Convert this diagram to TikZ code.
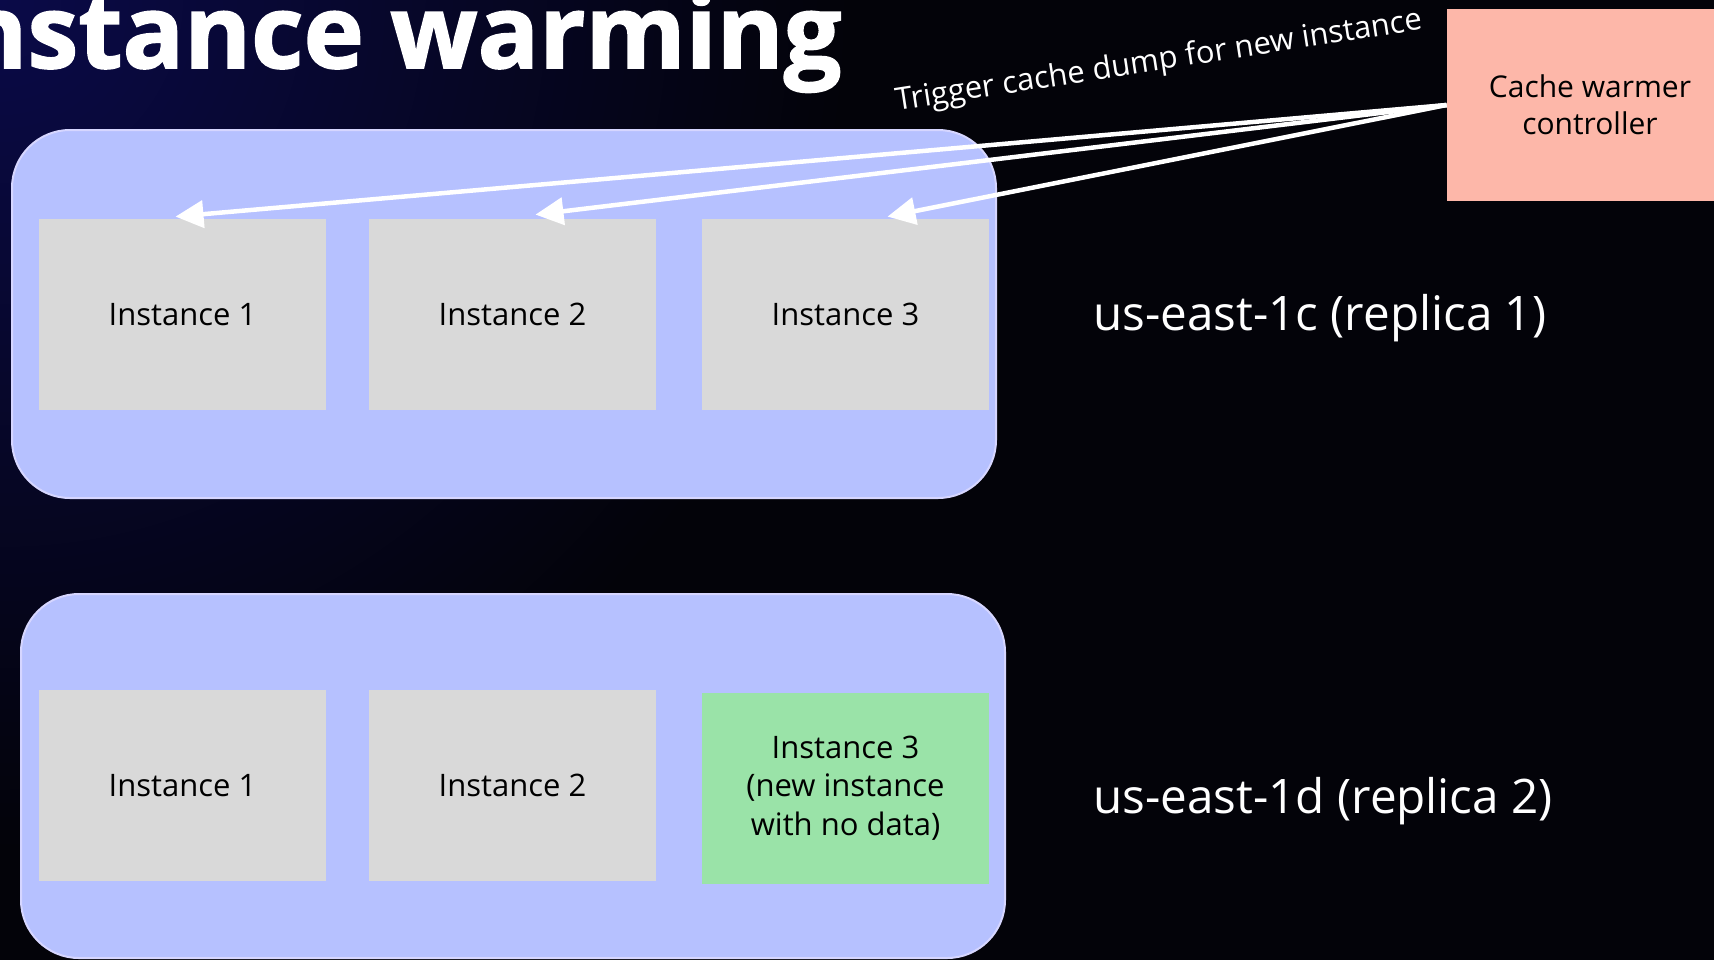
\documentclass[tikz,border=0pt]{standalone}
\usepackage{fontspec}
\setmainfont{Open Sans}
\newfontfamily\titlefont{Open Sans}[BoldFeatures={FakeBold=1.6}]
\usetikzlibrary{arrows.meta,calc}
\definecolor{bgnavy}{RGB}{10,10,72}
\definecolor{bgdark}{RGB}{3,3,9}
\definecolor{zonefill}{RGB}{182,193,255}
\definecolor{zoneline}{RGB}{214,214,255}
\definecolor{instgrey}{RGB}{217,217,217}
\definecolor{instgreen}{RGB}{154,227,168}
\definecolor{ctrlfill}{RGB}{253,183,169}
\tikzset{
  zone/.style={rectangle, fill=zonefill, draw=zoneline, line width=1pt, rounded corners=29pt, minimum width=492pt, inner sep=0pt},
  inst/.style={rectangle, fill=instgrey, minimum width=143.5pt, minimum height=95.5pt, inner sep=0pt, align=center, font=\fontsize{15.5}{19.2}\selectfont, text=black},
  newinst/.style={inst, fill=instgreen},
  ctrl/.style={rectangle, fill=ctrlfill, minimum width=143pt, minimum height=96pt, inner sep=0pt, align=center, font=\fontsize{15}{18.5}\selectfont, text=black},
  zonelabel/.style={text=white, font=\fontsize{23.8}{28}\selectfont, inner sep=0pt, anchor=west},
  titletext/.style={text=white, font=\fontsize{51}{60}\selectfont\titlefont\bfseries, inner sep=0pt, anchor=base east},
  triglabel/.style={text=white, font=\fontsize{15.5}{18}\selectfont, inner sep=0pt, anchor=base},
  trigarrow/.style={draw=white, line width=2.25pt, -{Triangle[length=14pt,width=13.5pt]}},
}
\begin{document}
\begin{tikzpicture}[x=0.5pt,y=-0.5pt]
\useasboundingbox (0,0) rectangle (1714,960);
\clip (0,0) rectangle (1714,960);
\fill[bgdark] (0,0) rectangle (1714,960);
\shade[inner color=bgnavy, outer color=bgdark] (0,0) circle (850);

\node[titletext] (title) at (842,68) {Instance warming};

% zones
\node[zone, minimum height=184pt] (z1) at (504,314) {};
\node[zone, minimum height=182pt] (z2) at (513,776) {};

% instances replica 1
\node[inst] (a1) at (182.5,314.5) {Instance 1};
\node[inst] (a2) at (512.5,314.5) {Instance 2};
\node[inst] (a3) at (845.5,314.5) {Instance 3};

% instances replica 2
\node[inst] (b1) at (182.5,785.5) {Instance 1};
\node[inst] (b2) at (512.5,785.5) {Instance 2};
\node[newinst] (b3) at (845.5,788) {Instance 3\\(new instance\\with no data)};

% zone labels
\node[zonelabel] (l1) at (1093,318) {us-east-1c (replica 1)};
\node[zonelabel] (l2) at (1093,801) {us-east-1d (replica 2)};

% controller
\node[ctrl] (ctrl) at (1590,105) {Cache warmer\\controller};

% trigger label
\node[triglabel, rotate=8.8] (trig) at (1160,70) {Trigger cache dump for new instance};

% arrow targets
\coordinate (t1) at ($(a1.north)+(-7,-2)$);
\coordinate (t2) at ($(a2.north)+(23,-4)$);
\coordinate (t3) at ($(a3.north)+(42,-2)$);

\draw[trigarrow] (ctrl.west) -- (t1);
\draw[trigarrow] (ctrl.west) -- (t2);
\draw[trigarrow] (ctrl.west) -- (t3);
\end{tikzpicture}
\end{document}
